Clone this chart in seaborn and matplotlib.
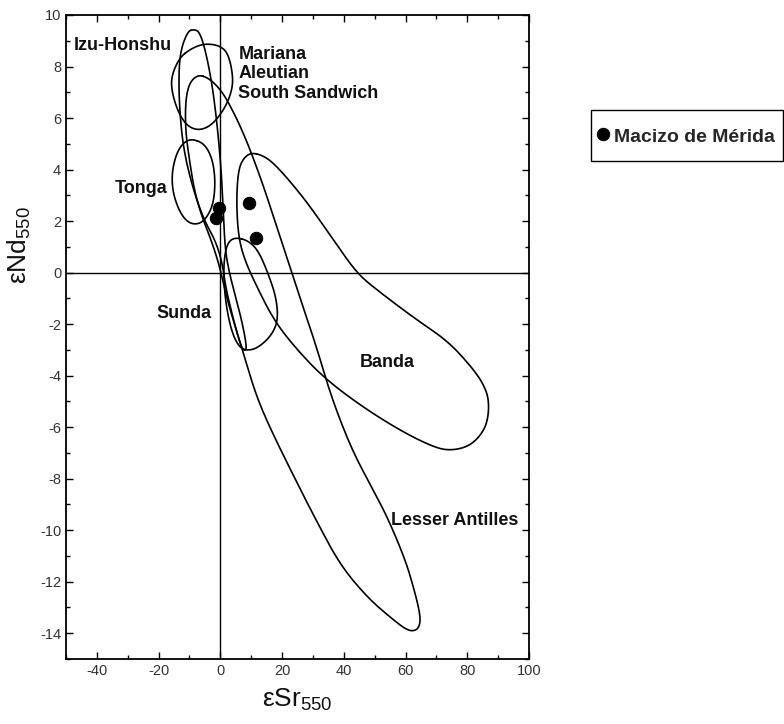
import numpy as np
import matplotlib
matplotlib.use("Agg")
import matplotlib.pyplot as plt
from matplotlib.ticker import MultipleLocator
import seaborn as sns

# ---------------- data (εSr550, εNd550) ----------------
izu_sr = [-8.7, -10.6, -12.9, -13.5, -13.2, -11.9, -8.7, -5.2, -1.6, 0.6, 1.6, 3.9, 6.1, 7.4,
          8.7, 7.1, 4.8, 2.9, 1.6, 1.0, 0.3, -1.0, -2.6, -4.8, -6.8]
izu_nd = [9.44, 9.36, 8.62, 7.65, 6.29, 4.74, 3.18, 2.02, 1.24, 0.39, -0.50, -1.67, -2.64, -3.03,
          -2.99, -1.94, -0.89, 0.0, 0.85, 2.21, 3.96, 5.71, 7.26, 8.62, 9.36]

mariana_sr = [-13.2, -9.4, -5.2, -0.3, 2.6, 4.2, 3.5, 1.0, -2.9, -7.1, -11.0, -13.9, -15.8, -15.8]
mariana_nd = [8.35, 8.70, 8.89, 8.82, 8.50, 7.57, 6.95, 6.29, 5.71, 5.51, 5.71, 6.29, 7.07, 7.65]

antilles_sr = [-7.1, -3.5, 0.3, 3.5, 6.8, 10.0, 13.9, 17.1, 21.3, 26.1, 31.0, 35.8, 42.3, 48.7,
               54.2, 60.0, 62.6, 64.5, 64.8, 63.5, 60.6, 55.2, 47.7, 39.0, 31.6, 24.5, 16.5,
               11.6, 7.7, 4.2, 1.9, -0.3, -2.9, -6.1, -8.4, -10.0, -11.3, -11.3, -10.0]
antilles_nd = [7.69, 7.53, 7.07, 6.41, 5.59, 4.66, 3.38, 2.21, 0.66, -1.09, -2.83, -4.78, -6.80,
               -8.27, -9.51, -11.18, -12.23, -13.13, -13.63, -13.90, -13.90, -13.40, -12.62,
               -11.38, -9.75, -8.08, -6.14, -4.78, -3.22, -1.86, -0.89, 0.27, 1.24, 2.21, 3.18,
               4.35, 5.51, 6.68, 7.38]

tonga_sr = [-9.4, -5.2, -2.6, -1.6, -2.3, -5.5, -9.4, -12.6, -15.2, -15.8, -14.5, -12.3]
tonga_nd = [5.20, 5.01, 4.43, 3.57, 2.60, 1.94, 1.86, 2.21, 2.99, 3.77, 4.54, 5.01]

sunda_sr = [5.2, 9.0, 12.3, 15.5, 18.1, 18.7, 16.5, 12.3, 9.0, 6.1, 3.5, 1.6, 1.0, 1.6, 2.9]
sunda_nd = [1.36, 1.24, 0.85, -0.04, -0.97, -1.86, -2.45, -2.91, -3.03, -2.91, -2.25, -1.09,
            0.08, 0.85, 1.24]

banda_sr = [10.0, 13.9, 17.4, 22.9, 29.4, 39.0, 44.5, 49.7, 62.6, 73.5, 81.0, 85.2, 87.1, 86.5,
            83.5, 79.4, 73.5, 68.1, 58.4, 45.5, 33.5, 24.5, 17.4, 11.6, 7.7, 5.8, 5.2, 5.8, 7.4]
banda_nd = [4.66, 4.54, 4.23, 3.50, 2.52, 0.85, -0.04, -0.58, -1.75, -2.64, -3.61, -4.31, -4.97,
            -5.86, -6.45, -6.80, -6.91, -6.72, -6.14, -5.17, -4.08, -2.95, -1.86, -0.50, 0.54,
            1.44, 2.80, 3.96, 4.43]

merida_sr = [-0.3, -1.3, 9.4, 11.6]
merida_nd = [2.52, 2.10, 2.72, 1.36]

field_labels = ["Izu-Honshu", "Mariana", "Aleutian", "South Sandwich", "Tonga", "Sunda",
                "Banda", "Lesser Antilles"]
label_sr = [-47.4, 5.8, 5.8, 5.8, -34.2, -20.6, 45.2, 55.2]
label_nd = [8.82, 8.47, 7.73, 6.95, 3.26, -1.59, -3.50, -9.63]

x_ticks = [-40, -20, 0, 20, 40, 60, 80, 100]
y_ticks = [-14, -12, -10, -8, -6, -4, -2, 0, 2, 4, 6, 8, 10]


def chaikin_closed(xs, ys, n=3):
    p = np.column_stack([xs, ys]).astype(float)
    for _ in range(n):
        nxt = np.roll(p, -1, axis=0)
        q = 0.75 * p + 0.25 * nxt
        r = 0.25 * p + 0.75 * nxt
        out = np.empty((2 * len(p), 2))
        out[0::2] = q
        out[1::2] = r
        p = out
    p = np.vstack([p, p[:1]])
    return p[:, 0], p[:, 1]


# ---------------- style ----------------
sns.set_theme(style="ticks")
plt.rcParams["font.family"] = ["Liberation Sans", "DejaVu Sans"]
plt.rcParams["axes.unicode_minus"] = False
plt.rcParams["mathtext.default"] = "regular"

fig = plt.figure(figsize=(7.84, 7.24), dpi=100)
ax = fig.add_axes([0.0842, 0.0898, 0.5906, 0.8895])

ax.axhline(0, color="black", lw=1.0, zorder=1)
ax.axvline(0, color="black", lw=1.0, zorder=1)

fields = [(izu_sr, izu_nd), (mariana_sr, mariana_nd), (antilles_sr, antilles_nd),
          (tonga_sr, tonga_nd), (sunda_sr, sunda_nd), (banda_sr, banda_nd)]
for fx, fy in fields:
    sx, sy = chaikin_closed(fx, fy)
    sns.lineplot(x=sx, y=sy, sort=False, estimator=None, color="black", lw=1.2, ax=ax,
                 zorder=2)

sns.scatterplot(x=merida_sr, y=merida_nd, s=80, color="black", edgecolor="black",
                label="Macizo de Mérida", ax=ax, zorder=5)

for t, lx, ly in zip(field_labels, label_sr, label_nd):
    ax.text(lx, ly, t, fontsize=13, fontweight="bold", ha="left", va="center",
            color="#111111", zorder=6)

ax.set_xlim(-50, 100)
ax.set_ylim(-15, 10)
ax.set_xticks(x_ticks)
ax.set_yticks(y_ticks)
ax.xaxis.set_minor_locator(MultipleLocator(10))
ax.yaxis.set_minor_locator(MultipleLocator(1))
ax.tick_params(which="both", direction="in", top=True, right=True, colors="black",
               labelcolor="#333333", labelsize=10.5, width=1.0)
ax.tick_params(which="major", length=5)
ax.tick_params(which="minor", length=3)
for sp in ax.spines.values():
    sp.set_linewidth(1.3)
    sp.set_color("black")

ax.set_xlabel("εSr$_{550}$", fontsize=19, color="#111111")
ax.xaxis.set_label_coords(0.5, -0.043)
ax.set_ylabel("εNd$_{550}$", fontsize=19, color="#111111")
ax.yaxis.set_label_coords(-0.072, 0.643)

leg = ax.legend(loc="upper left", bbox_to_anchor=(591 / 784, 614 / 724),
                bbox_transform=fig.transFigure, frameon=True, fancybox=False,
                edgecolor="black", framealpha=1, borderaxespad=0, borderpad=0.4,
                handlelength=0.4, handleheight=2.45, handletextpad=0.38,
                scatteryoffsets=[0.2],
                prop={"weight": "bold", "size": 14, "family": "Liberation Sans"})
leg.get_frame().set_linewidth(1.0)

fig.savefig("out.png", dpi=100)
